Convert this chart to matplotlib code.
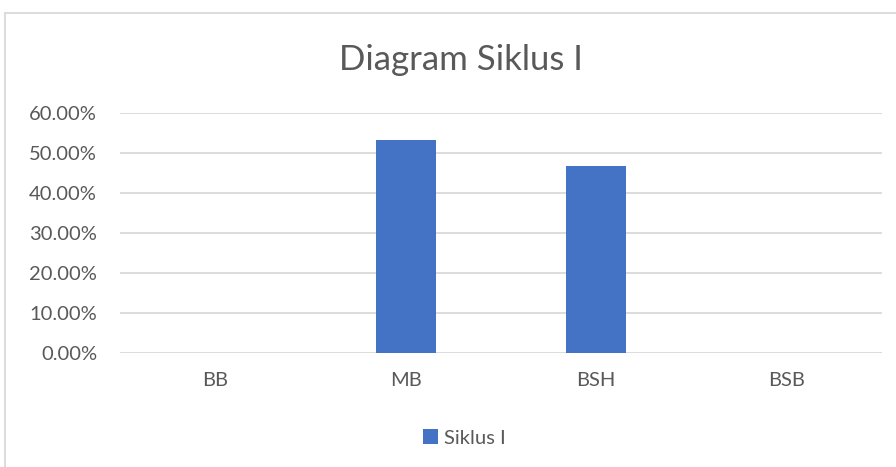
import matplotlib
matplotlib.use("Agg")
import matplotlib.pyplot as plt
from matplotlib.lines import Line2D
from matplotlib.ticker import FuncFormatter, MultipleLocator

categories = ["BB", "MB", "BSH", "BSB"]
values = [0.0, 53.33, 46.67, 0.0]
series_name = "Siklus I"
title = "Diagram Siklus I"

plt.rcParams['font.family'] = ['Lato', 'DejaVu Sans']
text_color = "#595959"
grid_color = "#D9D9D9"
bar_color = "#4472C4"

W, H = 896, 467
fig = plt.figure(figsize=(W / 100, H / 100), dpi=100)
ax = fig.add_axes([120 / W, 1 - 353 / H, 762 / W, 240 / H])

x = range(len(categories))
ax.bar(x, values, width=0.315, color=bar_color, label=series_name, zorder=3)
ax.set_xlim(-0.5, len(categories) - 0.5)
ax.set_ylim(0, 60)
ax.yaxis.set_major_locator(MultipleLocator(10))
ax.yaxis.set_major_formatter(FuncFormatter(lambda v, p: f"{v:.2f}%"))
ax.set_xticks(list(x))
ax.set_xticklabels(categories)
ax.grid(axis='y', color=grid_color, linewidth=1.3, zorder=0)
for s in ax.spines.values():
    s.set_visible(False)
ax.tick_params(axis='both', length=0, colors=text_color, labelsize=14.5)
ax.tick_params(axis='x', pad=14)
ax.tick_params(axis='y', pad=16.5)

fig.text(461 / W, 1 - 60 / H, title, ha='center', va='center', fontsize=25, color=text_color)

leg = fig.legend(loc='center', bbox_to_anchor=(464 / W, 1 - 438 / H), frameon=False,
                 fontsize=14.5, handlelength=0.75, handleheight=0.75, handletextpad=0.3,
                 labelcolor=text_color)

fig.add_artist(Line2D([5 / W, 1], [1 - 13 / H, 1 - 13 / H], color=grid_color, linewidth=1.3, transform=fig.transFigure))
fig.add_artist(Line2D([5 / W, 5 / W], [1 - 13 / H, 0], color=grid_color, linewidth=1.3, transform=fig.transFigure))

fig.savefig("out.png", dpi=100, facecolor="white")
